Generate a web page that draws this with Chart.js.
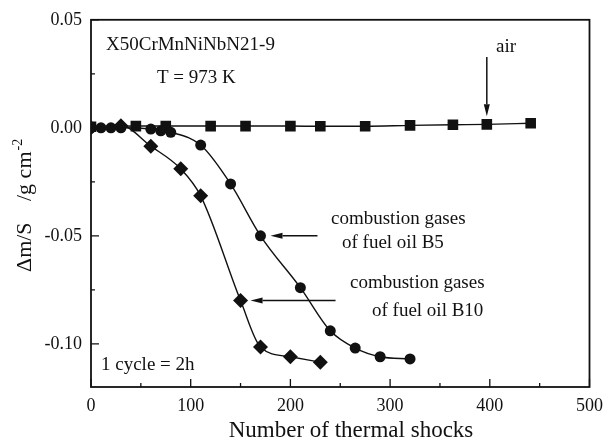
<!DOCTYPE html>
<html>
<head>
<meta charset="utf-8">
<script src="https://cdn.jsdelivr.net/npm/chart.js@4"></script>
<style>
  html, body { margin: 0; padding: 0; background: #fff; }
  canvas { display: block; }
</style>
</head>
<body>
<canvas id="chart" width="611" height="444"></canvas>
<script>
// mass change vs. number of thermal shocks, three atmospheres
const airX = [0, 45, 75, 120, 155, 200, 230, 275, 320, 363, 397, 441];
const airY = [0.0005, 0.0008, 0.0008, 0.0008, 0.0008, 0.0008, 0.0007, 0.0007, 0.0011, 0.0014, 0.0016, 0.0021];

const b5X = [0, 10, 20, 30, 60, 70, 80, 110, 140, 170, 210, 240, 265, 290, 320];
const b5Y = [0, 0, 0, 0, -0.0006, -0.0014, -0.0021, -0.008, -0.026, -0.050, -0.074, -0.094, -0.102, -0.106, -0.107];

const b10X = [0, 30, 60, 90, 110, 150, 170, 200, 230];
const b10Y = [0, 0.001, -0.0085, -0.019, -0.0315, -0.080, -0.1015, -0.106, -0.1085];

const xTicks = [0, 100, 200, 300, 400, 500];
const xMinor = [50, 150, 250, 350, 450];
const yTicks = [-0.10, -0.05, 0.00, 0.05];
const yMinor = [-0.075, -0.025, 0.025];

const ink = '#111';
const serif = "'Liberation Serif', 'Times New Roman', serif";

const pts = (xs, ys) => xs.map((x, i) => ({ x: x, y: ys[i] }));

function series(data, style, radius) {
  return {
    data: data,
    borderColor: ink,
    borderWidth: 1.4,
    backgroundColor: ink,
    pointStyle: style,
    pointRadius: radius,
    pointBorderWidth: 0,
    pointBackgroundColor: ink,
    cubicInterpolationMode: 'monotone',
    fill: false
  };
}

function arrow(ctx, x1, y1, x2, y2) {
  const a = Math.atan2(y2 - y1, x2 - x1);
  const c = Math.cos(a), s = Math.sin(a);
  const len = 12, half = 3;
  ctx.beginPath();
  ctx.moveTo(x1, y1);
  ctx.lineTo(x2 - c * len, y2 - s * len);
  ctx.stroke();
  ctx.beginPath();
  ctx.moveTo(x2, y2);
  ctx.lineTo(x2 - c * len - s * half, y2 - s * len + c * half);
  ctx.lineTo(x2 - c * len + s * half, y2 - s * len - c * half);
  ctx.closePath();
  ctx.fill();
}

const decor = {
  id: 'decor',
  afterDraw(chart) {
    const ctx = chart.ctx;
    const area = chart.chartArea;
    const xs = chart.scales.x, ys = chart.scales.y;
    ctx.save();
    ctx.strokeStyle = ink;
    ctx.fillStyle = ink;

    // frame
    ctx.lineWidth = 1.8;
    ctx.strokeRect(area.left, area.top, area.right - area.left, area.bottom - area.top);

    // inward ticks
    ctx.lineWidth = 1.3;
    ctx.beginPath();
    xTicks.forEach(v => { const p = xs.getPixelForValue(v); ctx.moveTo(p, area.bottom); ctx.lineTo(p, area.bottom - 8); });
    xMinor.forEach(v => { const p = xs.getPixelForValue(v); ctx.moveTo(p, area.bottom); ctx.lineTo(p, area.bottom - 4); });
    yTicks.forEach(v => { const p = ys.getPixelForValue(v); ctx.moveTo(area.left, p); ctx.lineTo(area.left + 8, p); });
    yMinor.forEach(v => { const p = ys.getPixelForValue(v); ctx.moveTo(area.left, p); ctx.lineTo(area.left + 4, p); });
    ctx.stroke();

    // notes
    ctx.font = '19px ' + serif;
    ctx.textBaseline = 'middle';
    ctx.textAlign = 'left';
    ctx.fillText('X50CrMnNiNbN21-9', 106, 45);
    ctx.fillText('T = 973 K', 157, 78);
    ctx.fillText('1 cycle = 2h', 101, 365);
    ctx.fillText('combustion gases', 331, 219);
    ctx.fillText('of fuel oil B5', 342, 243);
    ctx.fillText('combustion gases', 350, 283);
    ctx.fillText('of fuel oil B10', 372, 311);
    ctx.textAlign = 'center';
    ctx.fillText('air', 506, 47);

    // x axis title
    ctx.font = '23px ' + serif;
    ctx.fillText('Number of thermal shocks', 351, 431);

    // arrows pointing at the marked points
    ctx.lineWidth = 1.5;
    const ax = xs.getPixelForValue(airX[10]), ay = ys.getPixelForValue(airY[10]);
    arrow(ctx, ax, 57, ax, ay - 8);
    const bx = xs.getPixelForValue(b5X[9]), by = ys.getPixelForValue(b5Y[9]);
    arrow(ctx, bx + 57, by, bx + 10, by);
    const cx = xs.getPixelForValue(b10X[5]), cy = ys.getPixelForValue(b10Y[5]);
    arrow(ctx, cx + 95, cy, cx + 10, cy);

    // y axis title with superscript unit
    ctx.translate(25, 272);
    ctx.rotate(-Math.PI / 2);
    ctx.textAlign = 'left';
    ctx.font = '22px ' + serif;
    ctx.fillText('\u0394m/S', 0, 0);
    ctx.fillText('/g cm', 71, 0);
    const w = ctx.measureText('/g cm').width;
    ctx.font = '14px ' + serif;
    ctx.fillText('-2', 71 + w + 1, -7);
    ctx.restore();
  }
};

new Chart(document.getElementById('chart'), {
  type: 'line',
  data: {
    datasets: [
      series(pts(b10X, b10Y), 'rectRot', 7.5),
      series(pts(b5X, b5Y), 'circle', 5.5),
      series(pts(airX, airY), 'rect', 7.5)
    ]
  },
  options: {
    responsive: false,
    animation: false,
    layout: { padding: { top: 14, right: 12, left: 0, bottom: 0 } },
    plugins: { legend: { display: false }, tooltip: { enabled: false } },
    scales: {
      x: {
        type: 'linear',
        min: 0,
        max: 500,
        afterBuildTicks: s => { s.ticks = xTicks.map(v => ({ value: v })); },
        afterFit: s => { s.height = 57; },
        grid: { display: false, drawTicks: false },
        border: { display: false },
        ticks: { color: ink, padding: 8, maxRotation: 0, font: { family: serif, size: 18 } }
      },
      y: {
        min: -0.12,
        max: 0.05,
        afterBuildTicks: s => { s.ticks = yTicks.map(v => ({ value: v })); },
        afterFit: s => { s.width = 91; },
        grid: { display: false, drawTicks: false },
        border: { display: false },
        ticks: {
          color: ink,
          padding: 9,
          font: { family: serif, size: 18 },
          callback: v => v.toFixed(2)
        }
      }
    }
  },
  plugins: [decor]
});
</script>
</body>
</html>
